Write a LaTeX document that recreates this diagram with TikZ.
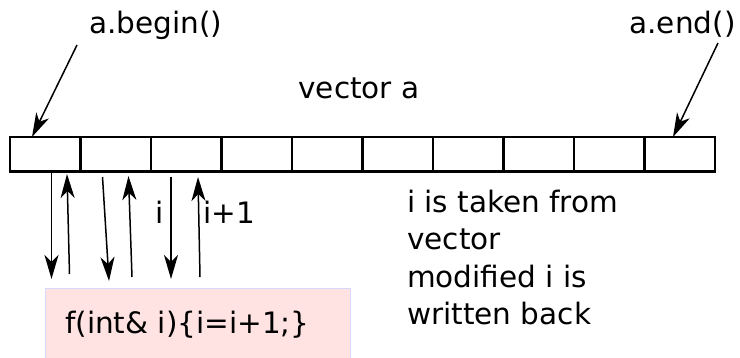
\documentclass[tikz,border=0pt]{standalone}
\usepackage{fontspec}
\setmainfont{DejaVu Sans}
\usetikzlibrary{arrows.meta}
\definecolor{pinkfill}{RGB}{255,226,226}
\definecolor{boxedge}{RGB}{215,215,250}
\begin{document}
\begin{tikzpicture}[x=1pt,y=-1pt,
  lbl/.style={font=\fontsize{29.5}{37}\selectfont, inner sep=0pt, anchor=base},
  lblw/.style={lbl, anchor=base west},
  cell/.style={draw, line width=2.8pt, minimum width=70.5pt, minimum height=34.5pt, inner sep=0pt},
  arr/.style={line width=1.5pt, -{Stealth[length=24pt,width=14pt,inset=7pt]}},
]
\useasboundingbox (0,0) rectangle (740,357);
% vector cells
\foreach \k in {1,...,10} { \node[cell] (c\k) at ({10+70.5*(\k-0.5)},154.3) {}; }
% labels
\node[lbl] (begin) at (156,33) {a.begin()};
\node[lbl] (end) at (682.5,33) {a.end()};
\node[lbl] (vec) at (359,98) {vector a};
\node[lbl] (li) at (160,223) {i};
\node[lbl] (lip) at (229,223) {i+1};
\node[lblw] (t1) at (407,212) {i is taken from};
\node[lblw] (t2) at (407,249) {vector};
\node[lblw] (t3) at (407,287) {modified i is};
\node[lblw] (t4) at (407,324) {written back};
% function box
\node[draw=boxedge, fill=pinkfill, line width=1pt, minimum width=305pt, minimum height=85pt, anchor=north west, inner sep=0pt] (func) at (45,288) {};
\node[lblw] (ftext) at (65,333) {f(int\& i)\{i=i+1;\}};
% pointer arrows
\coordinate (bs) at (77,45);
\coordinate (bt) at (32,137);
\coordinate (es) at (718,43);
\coordinate (et) at (673,137);
\draw[arr] (bs) -- (bt);
\draw[arr] (es) -- (et);
% data arrows
\coordinate (d1s) at (51.5,172); \coordinate (d1e) at (51.5,279);
\coordinate (u1s) at (69.5,274); \coordinate (u1e) at (67,174);
\coordinate (d2s) at (102.5,177); \coordinate (d2e) at (109,281);
\coordinate (u2s) at (132,277); \coordinate (u2e) at (128.5,176);
\coordinate (d3s) at (171,177); \coordinate (d3e) at (171,279);
\coordinate (u3s) at (200,277); \coordinate (u3e) at (198,177);
\draw[arr] (d1s) -- (d1e);
\draw[arr] (u1s) -- (u1e);
\draw[arr] (d2s) -- (d2e);
\draw[arr] (u2s) -- (u2e);
\draw[arr] (d3s) -- (d3e);
\draw[arr] (u3s) -- (u3e);
\end{tikzpicture}
\end{document}
